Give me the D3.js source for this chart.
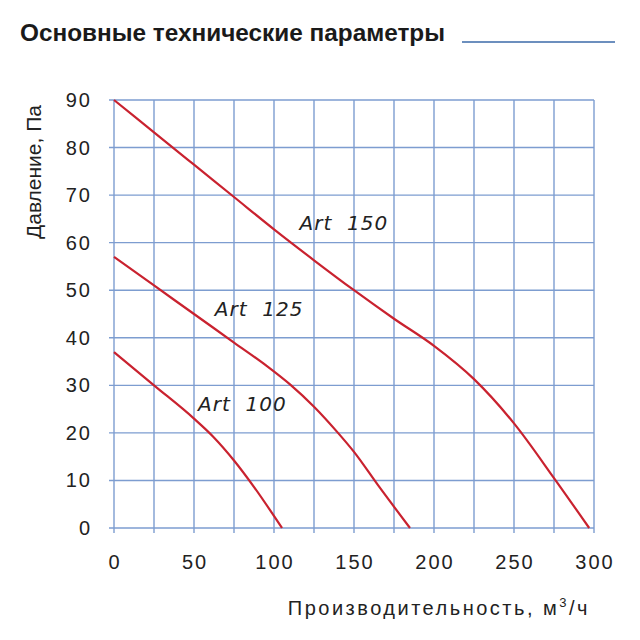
<!DOCTYPE html>
<html>
<head>
<meta charset="utf-8">
<script src="https://cdn.jsdelivr.net/npm/d3@7"></script>
<style>
  body { margin: 0; background: #fff; }
  svg text { font-family: "Liberation Sans", Arial, sans-serif; fill: #222; }
</style>
</head>
<body>
<div id="canvas"></div>
<script>
// данные
const xTicks = [0, 50, 100, 150, 200, 250, 300];
const yTicks = [0, 10, 20, 30, 40, 50, 60, 70, 80, 90];
const xGrid = d3.range(0, 301, 25);

const art150 = [[0, 90], [25, 83.2], [50, 76.4], [75, 69.6], [100, 62.8], [125, 56.3], [150, 50], [175, 44], [200, 38.3], [225, 31.3], [250, 22], [275, 10.5], [297, 0]];
const art125 = [[0, 57], [25, 51], [50, 45], [75, 39], [95, 34.2], [110, 30.2], [125, 25.5], [140, 20], [150, 16], [165, 9], [185, 0]];
const art100 = [[0, 37], [25, 30], [50, 23], [62, 19.2], [75, 14.2], [88, 8.4], [105, 0]];

const series = [
    { name: "Art  150", pts: art150, lx: 116, ly: 62.6 },
    { name: "Art  125", pts: art125, lx: 63, ly: 44.5 },
    { name: "Art  100", pts: art100, lx: 52.5, ly: 24.7 }
];

const width = 640, height = 640;
const margin = { top: 100, left: 114, bottom: 112, right: 46 };
const iwidth = width - margin.left - margin.right;
const iheight = height - margin.top - margin.bottom;

const svg = d3.select("#canvas").append("svg")
    .attr("width", width)
    .attr("height", height);

// заголовок
svg.append("text")
    .attr("x", 20).attr("y", 41)
    .attr("textLength", 425)
    .attr("lengthAdjust", "spacingAndGlyphs")
    .style("font-family", "'Liberation Sans Narrow', 'Liberation Sans', Arial, sans-serif")
    .style("font-weight", "bold")
    .style("font-size", "24px")
    .style("fill", "#1a1a1a")
    .text("Основные технические параметры");
svg.append("line")
    .attr("x1", 462).attr("x2", 615)
    .attr("y1", 42).attr("y2", 42)
    .attr("stroke", "#3b6aa8")
    .attr("stroke-width", 1.3);

const g = svg.append("g").attr("transform", `translate(${margin.left},${margin.top})`);

const x = d3.scaleLinear().domain([0, 300]).range([0, iwidth]);
const y = d3.scaleLinear().domain([0, 90]).range([iheight, 0]);

const gridColor = "#7d9dd0";

// сетка
g.append("g").selectAll("line").data(xGrid).enter().append("line")
    .attr("x1", d => x(d)).attr("x2", d => x(d))
    .attr("y1", 0).attr("y2", iheight + 5)
    .attr("stroke", gridColor).attr("stroke-width", 1.4);

g.append("g").selectAll("line").data(yTicks).enter().append("line")
    .attr("x1", -5).attr("x2", iwidth)
    .attr("y1", d => y(d)).attr("y2", d => y(d))
    .attr("stroke", gridColor).attr("stroke-width", 1.4);

// подписи осей
g.append("g").selectAll("text").data(yTicks).enter().append("text")
    .attr("x", -22).attr("y", d => y(d) + 7)
    .attr("text-anchor", "end")
    .style("font-size", "20px")
    .style("letter-spacing", "2px")
    .text(d => d);

g.append("g").selectAll("text").data(xTicks).enter().append("text")
    .attr("x", d => x(d) + 1).attr("y", iheight + 41)
    .attr("text-anchor", "middle")
    .style("font-size", "20px")
    .style("letter-spacing", "2px")
    .text(d => d);

svg.append("text")
    .attr("transform", "translate(41,172) rotate(-90)")
    .attr("text-anchor", "middle")
    .style("font-size", "21px")
    .text("Давление, Па");

const xt = svg.append("text")
    .attr("x", 590).attr("y", 615)
    .attr("text-anchor", "end")
    .style("font-size", "20px")
    .style("letter-spacing", "2.5px");
xt.append("tspan").text("Производительность, м");
xt.append("tspan").attr("dy", -8).style("font-size", "13px").text("3");
xt.append("tspan").attr("dy", 8).text("/ч");

// кривые
const line = d3.line()
    .x(d => x(d[0]))
    .y(d => y(d[1]))
    .curve(d3.curveMonotoneX);

g.selectAll("path.curve").data(series).enter().append("path")
    .attr("class", "curve")
    .attr("d", d => line(d.pts))
    .attr("fill", "none")
    .attr("stroke", "#c9222f")
    .attr("stroke-width", 2.2);

g.selectAll("text.lbl").data(series).enter().append("text")
    .attr("class", "lbl")
    .attr("x", d => x(d.lx)).attr("y", d => y(d.ly))
    .style("font-family", "'DejaVu Sans', sans-serif")
    .style("font-style", "italic")
    .style("font-size", "20px")
    .style("letter-spacing", "1px")
    .style("white-space", "pre")
    .attr("xml:space", "preserve")
    .text(d => d.name);
</script>
</body>
</html>
